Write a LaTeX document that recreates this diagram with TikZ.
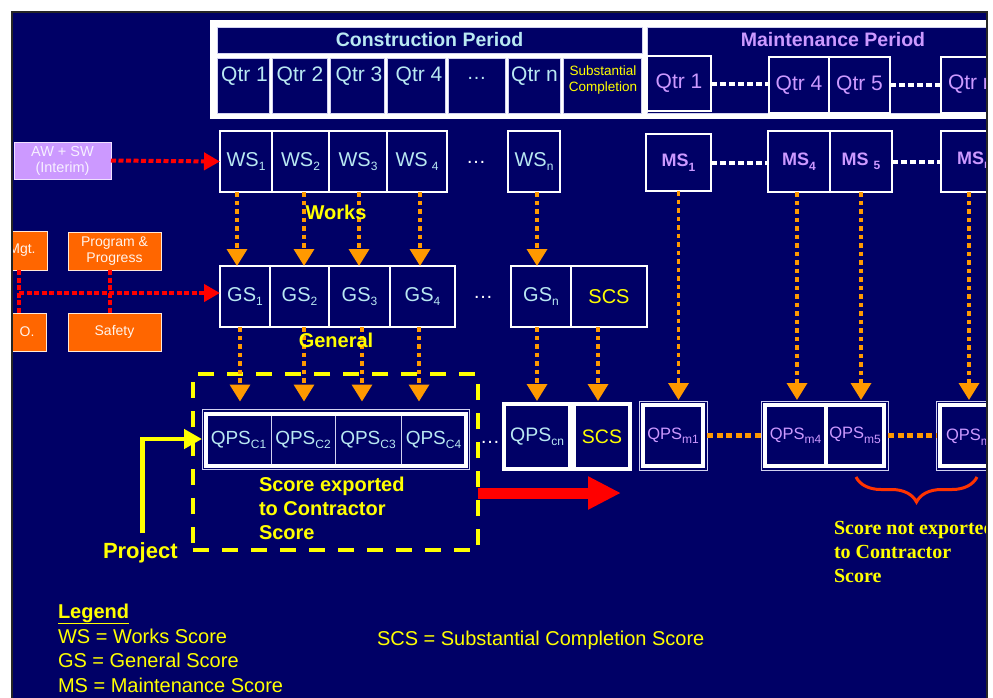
\documentclass[tikz,border=0pt]{standalone}
\usepackage{fontspec}
\setmainfont{Liberation Sans}
\newfontfamily\serifbf{Liberation Serif}
\usetikzlibrary{arrows.meta,decorations.pathreplacing}
\definecolor{navy}{RGB}{0,0,102}
\definecolor{ltcyan}{RGB}{185,232,242}
\definecolor{lav}{RGB}{204,153,255}
\definecolor{orarrow}{RGB}{255,153,0}
\definecolor{orbox}{RGB}{255,102,0}
\definecolor{yel}{RGB}{255,255,0}
\definecolor{redc}{RGB}{255,0,0}
\definecolor{bracec}{RGB}{255,51,0}
\definecolor{thinw}{RGB}{210,210,240}
\newcommand\fsz[2]{\fontsize{#1}{#2}\selectfont}
\newcommand\lowr[1]{\raisebox{-4.5pt}{\fsz{12}{12}#1}}
\newcommand\cbox[7]{\node[#1,minimum width={(#5)-(#3)},minimum height={(#6)-(#4)}] (#2) at ({((#3)+(#5))/2},{((#4)+(#6))/2}) {#7};}
\tikzset{
  base/.style={inner sep=0pt, outer sep=0pt},
  cell/.style={base, draw=thinw, line width=0.8pt, fill=navy},
  wcell/.style={base, draw=white, line width=2pt, fill=navy, text=ltcyan, font=\fsz{20}{24}},
  mcell/.style={base, draw=white, line width=1.5pt, fill=navy, text=lav, font=\fsz{21}{24}},
  msbox/.style={base, draw=white, line width=2pt, fill=navy, text=lav, font=\bfseries\fsz{18}{22}},
  qtxt/.style={base, text=ltcyan, font=\fsz{21}{24}},
  obox/.style={base, draw=white!85!orbox, line width=0.8pt, fill=orbox, text=white!92!orbox, font=\fsz{14}{16}, align=center},
  lavbox/.style={base, draw=white!70!lav, line width=1pt, fill=lav, text=white!85!lav, font=\fsz{14.5}{16}, align=center},
  oarrow/.style={draw=orarrow, line width=3.5pt, dash pattern=on 4.5pt off 4pt, -{Triangle[length=17pt,width=20pt]}},
  redarr/.style={draw=redc, line width=4pt, dash pattern=on 5pt off 2.5pt, -{Triangle[length=16pt,width=17pt]}},
  reddot/.style={draw=redc, line width=3.5pt, dash pattern=on 5pt off 2.5pt},
  whdash/.style={draw=white, line width=4pt, dash pattern=on 6pt off 3pt},
  ordash/.style={draw=orarrow, line width=5pt, dash pattern=on 6pt off 3.5pt},
  thinframe/.style={base, draw=thinw, line width=1pt},
  qcell/.style={base, draw=thinw, line width=0.8pt, fill=navy, text=ltcyan, font=\fsz{19}{22}},
  qbig/.style={base, draw=white, line width=4.5pt, fill=navy, font=\fsz{19.5}{22}},
  qmcell/.style={base, draw=white, line width=4pt, fill=navy, text=lav, font=\fsz{16.5}{20}},
  ylab/.style={base, text=yel, font=\bfseries\fsz{20}{24}},
  legtxt/.style={base, text=yel, font=\fsz{20}{24}, anchor=base west},
  dotsn/.style={base, text=white, font=\fsz{20}{24}},
  yarrow/.style={draw=yel, line width=4.5pt, -{Triangle[length=18pt,width=19pt]}},
  bigred/.style={draw=redc, line width=11pt, -{Triangle[length=33pt,width=31pt]}},
  ydash/.style={base, draw=yel, line width=4pt, dash pattern=on 16pt off 13pt}
}
\begin{document}
\begin{tikzpicture}[x=1pt,y=-1pt]
\fill[white] (0,0) rectangle (993,697);
\useasboundingbox (0,0) rectangle (993,697);
\fill[navy] (12,12) rectangle (987,710);
\begin{scope}
\clip (13,13) rectangle (986,697);
% ---------- top frame ----------
\fill[white] (210,20) rectangle (1000,119);
\cbox{cell, text=ltcyan, font=\bfseries\fsz{19.5}{22}}{chead}{217}{27}{642}{53}{Construction Period}
\cbox{cell}{cq1}{217}{58}{269}{113}{}
\cbox{cell}{cq2}{272}{58}{327}{113}{}
\cbox{cell}{cq3}{330}{58}{384}{113}{}
\cbox{cell}{cq4}{387}{58}{445}{113}{}
\cbox{cell}{cqd}{448}{58}{505}{113}{}
\cbox{cell}{cqn}{508}{58}{560}{113}{}
\cbox{cell}{cqs}{563}{58}{641}{113}{}
\node[qtxt] (cq1t) at (244.5,76) {Qtr 1};
\node[qtxt] (cq2t) at (300,76) {Qtr 2};
\node[qtxt] (cq3t) at (359,76) {Qtr 3};
\node[qtxt] (cq4t) at (419,76) {Qtr 4};
\node[dotsn, text=ltcyan] (cqdt) at (476.5,78) {…};
\node[qtxt] (cqnt) at (534.5,76) {Qtr n};
\node[base, text=yel, font=\fsz{13.5}{16}, align=center] (cqst) at (603,80) {Substantial\\Completion};
\cbox{cell}{mhead}{647}{27}{1000}{113}{}
\node[base, text=lav, font=\bfseries\fsz{19.5}{22}] (mheadt) at (833,40) {Maintenance Period};
\cbox{mcell}{mq1}{647}{56}{711}{111}{Qtr 1}
\cbox{mcell}{mq4}{769}{57}{829}{113}{Qtr 4}
\cbox{mcell}{mq5}{829}{57}{890}{113}{Qtr 5}
\cbox{mcell}{mqn}{941}{57}{1000}{113}{}
\node[qtxt, text=lav, anchor=west] (mqnt) at (948,84) {Qtr n};
\draw[whdash] (mq1.east) -- (mq1.east -| mq4.west);
\draw[whdash] (mq5.east) -- (mq5.east -| mqn.west);
% ---------- WS row ----------
\cbox{wcell}{ws1}{220}{131}{272}{192}{WS\lowr{1}}
\cbox{wcell}{ws2}{272}{131}{329}{192}{WS\lowr{2}}
\cbox{wcell}{ws3}{329}{131}{387}{192}{WS\lowr{3}}
\cbox{wcell}{ws4}{387}{131}{447}{192}{WS\hspace{4pt}\lowr{4}}
\node[dotsn] (wsdots) at (476,162) {…};
\cbox{wcell}{wsn}{508}{131}{560}{192}{WS\lowr{n}}
\cbox{msbox}{ms1}{646}{134}{711}{191}{MS\lowr{1}}
\cbox{msbox}{ms4}{768}{131}{830}{192}{MS\lowr{4}}
\cbox{msbox}{ms5}{830}{131}{892}{192}{MS\hspace{5pt}\lowr{5}}
\cbox{msbox}{msn}{941}{131}{1000}{192}{}
\node[base, text=lav, font=\bfseries\fsz{18}{22}, anchor=west] (msnt) at (957,160) {MS\lowr{n}};
\draw[whdash] (ms1.east) -- (ms1.east -| ms4.west);
\draw[whdash] (ms5.east) -- (ms5.east -| msn.west);
\cbox{lavbox}{awsw}{14}{142}{111}{179}{AW + SW\\(Interim)}
\draw[redarr] (awsw.east) -- (ws1.west);
% ---------- GS row ----------
\cbox{wcell}{gs1}{220}{266}{270}{327}{GS\lowr{1}}
\cbox{wcell}{gs2}{270}{266}{329}{327}{GS\lowr{2}}
\cbox{wcell}{gs3}{329}{266}{390}{327}{GS\lowr{3}}
\cbox{wcell}{gs4}{390}{266}{455}{327}{GS\lowr{4}}
\node[dotsn] (gsdots) at (483,297) {…};
\cbox{wcell}{gsn}{511}{266}{571}{327}{GS\lowr{n}}
\cbox{wcell, text=yel}{scs}{571}{266}{647}{327}{SCS}
% left orange boxes
\cbox{obox}{mgt}{-3}{231}{47}{270}{Mgt.}
\cbox{obox}{prog}{68}{232}{161}{270}{Program \&\\Progress}
\cbox{obox}{dobox}{-3}{313}{46}{351}{}
\node[base, text=white!92!orbox, font=\fsz{14}{16}] (dot) at (27,332) {O.};
\cbox{obox}{safety}{68}{313}{161}{351}{Safety}
\coordinate (lj) at (19,293);
\draw[reddot] (mgt.south -| lj) -- (dobox.north -| lj);
\draw[reddot] ([xshift=-4.5pt]prog.south) -- ([xshift=-4.5pt]safety.north);
\draw[redarr] (lj) -- (lj -| gs1.west);
% ---------- export box ----------
\cbox{ydash}{exportbox}{193}{374}{478}{550}{}
% ---------- QPS rows ----------
\cbox{thinframe}{qcrow}{202}{409}{469}{469}{}
\cbox{qcell}{qc1}{206}{414}{271}{466}{QPS\lowr{C1}}
\cbox{qcell}{qc2}{271}{414}{335}{466}{QPS\lowr{C2}}
\cbox{qcell}{qc3}{335}{414}{401}{466}{QPS\lowr{C3}}
\cbox{qcell}{qc4}{401}{414}{466}{466}{QPS\lowr{C4}}
\draw[white, line width=4pt] (qc1.north west) rectangle (qc4.south east);
\node[dotsn] (qdots) at (490,442) {…};
\cbox{qbig, text=ltcyan}{qcn}{504}{404}{570}{469}{QPS\lowr{cn}}
\cbox{qbig, text=yel}{qscs}{574}{404}{630}{469}{SCS}
\cbox{thinframe}{qm1f}{639}{401}{707}{470}{}
\cbox{qmcell}{qm1}{643}{405}{703}{466}{QPS\lowr{m1}}
\cbox{thinframe}{qm45f}{761}{401}{888}{470}{}
\cbox{qmcell}{qm4}{765}{405}{826}{466}{QPS\lowr{m4}}
\cbox{qmcell}{qm5}{826}{405}{884}{466}{QPS\lowr{m5}}
\cbox{thinframe}{qmnf}{936}{401}{1000}{470}{}
\cbox{qmcell}{qmn}{940}{405}{1000}{466}{}
\node[base, text=lav, font=\fsz{16.5}{20}, anchor=west] (qmnt) at (946,437) {QPS\lowr{mn}};
\draw[ordash] (qm1f.east) -- (qm1f.east -| qm45f.west);
\draw[ordash] (qm45f.east) -- (qm45f.east -| qmnf.west);
% ---------- orange arrows ----------
\draw[oarrow] ([xshift=-9pt]ws1.south) -- ([xshift=-9pt]ws1.south |- gs1.north);
\draw[oarrow] ([xshift=3.5pt]ws2.south) -- ([xshift=3.5pt]ws2.south |- gs2.north);
\draw[oarrow] ([xshift=1pt]ws3.south) -- ([xshift=1pt]ws3.south |- gs3.north);
\draw[oarrow] ([xshift=3pt]ws4.south) -- ([xshift=3pt]ws4.south |- gs4.north);
\draw[oarrow] ([xshift=3pt]wsn.south) -- ([xshift=3pt]wsn.south |- gsn.north);
\draw[oarrow, shorten >=7.5pt] ([xshift=-5pt]gs1.south) -- ([xshift=-5pt]gs1.south |- qcrow.north);
\draw[oarrow, shorten >=7.5pt] ([xshift=4.5pt]gs2.south) -- ([xshift=4.5pt]gs2.south |- qcrow.north);
\draw[oarrow, shorten >=7.5pt] ([xshift=2.5pt]gs3.south) -- ([xshift=2.5pt]gs3.south |- qcrow.north);
\draw[oarrow, shorten >=7.5pt] ([xshift=-3.5pt]gs4.south) -- ([xshift=-3.5pt]gs4.south |- qcrow.north);
\draw[oarrow, shorten >=3pt] ([xshift=-4pt]gsn.south) -- ([xshift=-4pt]gsn.south |- qcn.north);
\draw[oarrow, shorten >=3pt] ([xshift=-11pt]scs.south) -- ([xshift=-11pt]scs.south |- qscs.north);
\draw[oarrow, shorten >=1pt] (ms1.south) -- (ms1.south |- qm1f.north);
\draw[oarrow, shorten >=1pt] ([xshift=-2pt]ms4.south) -- ([xshift=-2pt]ms4.south |- qm45f.north);
\draw[oarrow, shorten >=1pt] (ms5.south) -- (ms5.south |- qm45f.north);
\draw[oarrow, shorten >=1pt] ([xshift=-1.5pt]msn.south) -- ([xshift=-1.5pt]msn.south |- qmnf.north);
% ---------- labels ----------
\node[ylab] (works) at (336,212) {Works};
\node[ylab] (general) at (336,340) {General};
\node[ylab, anchor=north west, align=left] (exported) at (259,477) {Score exported\\to Contractor\\Score};
\coordinate (redtip) at (621,493);
\draw[bigred] (exportbox.east |- redtip) -- (redtip);
\node[base, text=yel, font=\bfseries\fsz{22}{26}, anchor=base west] (project) at (103,558) {Project};
\draw[yarrow, shorten <=9pt] ([xshift=2pt]project.north) |- (qcrow.west);
\draw[bracec, line width=3pt, decorate, decoration={brace, amplitude=25pt, aspect=0.5}] (977,477) -- (856,477);
\node[base, text=yel, font=\serifbf\bfseries\fsz{20}{24}, anchor=north west, align=left] (notexp) at (834,521) {Score not exported\\to Contractor\\Score};
% ---------- legend ----------
\node[legtxt] (leg) at (58,618) {\bfseries\underline{Legend}};
\node[legtxt] (legws) at (58,643) {WS = Works Score};
\node[legtxt] (leggs) at (58,667) {GS = General Score};
\node[legtxt] (legms) at (58,692) {MS = Maintenance Score};
\node[legtxt] (legscs) at (377,645) {SCS = Substantial Completion Score};
\end{scope}
\draw[black!85, line width=1.5pt] (12,712) -- (12,12) -- (987,12) -- (987,712);
\end{tikzpicture}
\end{document}
